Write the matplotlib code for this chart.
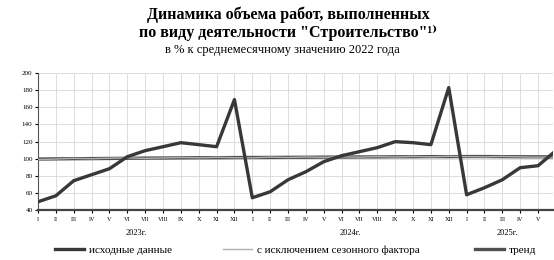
import numpy as np
import matplotlib
matplotlib.use("Agg")
import matplotlib.pyplot as plt

plt.rcParams['font.family'] = ['Liberation Serif', 'DejaVu Serif']

# месяцы: 2023 I - 2025 VI
months = ['I', 'II', 'III', 'IV', 'V', 'VI', 'VII', 'VIII', 'IX', 'X', 'XI', 'XII'] * 2 + \
         ['I', 'II', 'III', 'IV', 'V', 'VI']
years = ['2023г.', '2024г.', '2025г.']
year_centers = [5.5, 17.5, 26.3]

raw = [49.7, 56.7, 74.3, 81.3, 88.3, 102.3, 109.4, 114.0, 118.7, 116.4, 114.0, 169.0,
       54.4, 61.4, 75.4, 84.8, 96.5, 103.5, 108.2, 112.9, 119.9, 118.7, 116.4, 183.0,
       57.9, 66.1, 75.4, 89.5, 91.8, 109.4]
sa = [99.0, 99.6, 100.4, 100.0, 100.6, 101.0, 100.4, 100.8, 101.4, 101.0, 101.6, 101.2,
      101.0, 101.8, 101.4, 102.0, 101.6, 102.2, 101.8, 102.4, 102.0, 102.6, 102.2, 102.8,
      102.4, 102.2, 102.6, 102.2, 101.8, 102.0]
trend = [99.6, 99.8, 100.0, 100.1, 100.3, 100.5, 100.7, 100.8, 101.0, 101.1, 101.2, 101.3,
         101.4, 101.5, 101.6, 101.7, 101.8, 101.9, 102.0, 102.1, 102.2, 102.3, 102.4, 102.4,
         102.5, 102.5, 102.4, 102.3, 102.2, 102.1]

x = np.arange(len(raw))

fig = plt.figure(figsize=(5.54, 2.60), dpi=100)
ax = fig.add_axes([0.0686, 0.192, 0.93, 0.527])

l_tr, = ax.plot(x, trend, color='#505050', lw=2.4, zorder=3)
l_sa, = ax.plot(x, sa, color='#b0b0b0', lw=1.0, zorder=4)
l_raw, = ax.plot(x, raw, color='#383838', lw=2.4, zorder=5)

ax.set_xlim(0, 28.85)
ax.set_ylim(40, 200)
ax.set_yticks(np.arange(40, 201, 20))
ax.set_xticks(x[:29])
ax.set_xticklabels(months[:29], fontsize=4.5)
ax.tick_params(axis='y', labelsize=5, length=2, pad=2)
ax.tick_params(axis='x', length=2, pad=3)
ax.grid(color='#d8d8d8', lw=0.6)
ax.set_axisbelow(True)
for s in ['top', 'right']:
    ax.spines[s].set_visible(False)
ax.spines['left'].set_color('#555555')
ax.spines['bottom'].set_color('#444444')
ax.spines['bottom'].set_linewidth(1.6)

for xc, yl in zip(year_centers, years):
    ax.text(xc, -0.17, yl, transform=ax.get_xaxis_transform(), ha='center', va='center', fontsize=6)

fig.text(0.52, 0.942, 'Динамика объема работ, выполненных', ha='center', va='center',
         fontsize=11.5, fontweight='bold')
fig.text(0.52, 0.873, 'по виду деятельности "Строительство"\u00b9\u207e', ha='center', va='center',
         fontsize=11.5, fontweight='bold')
fig.text(0.51, 0.808, 'в % к среднемесячному значению 2022 года', ha='center', va='center',
         fontsize=9)

# легенда: три отдельных элемента
entries = [(l_raw, 'исходные данные', 0.099),
           (l_sa, 'с исключением сезонного фактора', 0.402),
           (l_tr, 'тренд', 0.857)]
for hnd, lab, xpos in entries:
    fig.legend([hnd], [lab], loc='center left', bbox_to_anchor=(xpos, 0.038), frameon=False,
               fontsize=8, handlelength=2.6, handletextpad=0.5, borderpad=0, borderaxespad=0)

fig.savefig('out.png', dpi=100)
